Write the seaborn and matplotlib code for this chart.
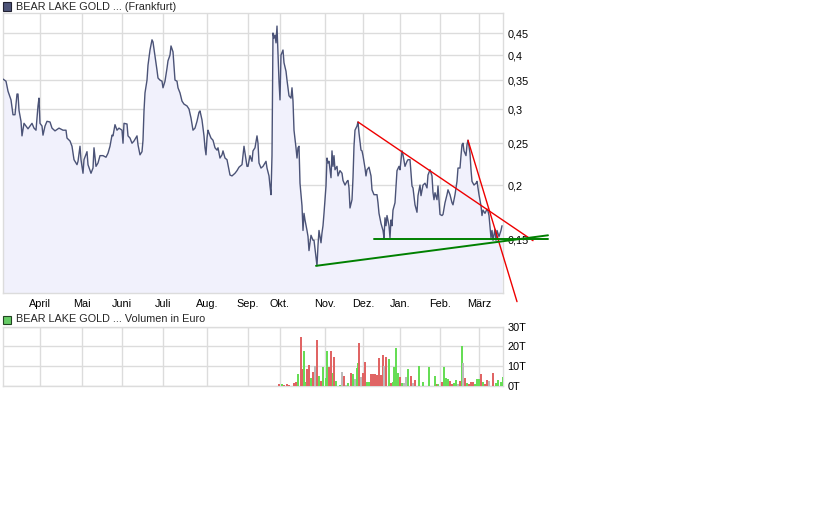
import matplotlib
matplotlib.use("Agg")
import matplotlib.pyplot as plt
from matplotlib.patches import Rectangle
from matplotlib.ticker import FixedLocator, FixedFormatter, NullLocator
import seaborn as sns
import pandas as pd

# Kursdaten (Frankfurt) - t = Handelstag-Index, kurs in EUR
t = [0, 3, 5, 8, 10, 12, 14, 15, 16, 18, 19, 21, 23, 25, 29, 31, 33, 35, 36, 37,
     39, 40, 42, 44, 47, 49, 52, 56, 60, 63, 64, 67, 69, 71, 74, 75, 77, 78, 80, 81,
     84, 85, 88, 90, 91, 93, 95, 97, 100, 103, 105, 107, 109, 110, 112, 114, 116, 119, 120, 121,
     124, 125, 127, 129, 131, 134, 135, 137, 139, 140, 141, 142, 144, 145, 147, 149, 150, 152, 154, 155,
     157, 159, 160, 162, 164, 165, 167, 168, 170, 171, 172, 174, 175, 177, 179, 181, 184, 186, 188, 190,
     192, 194, 196, 197, 199, 200, 201, 202, 203, 204, 205, 206, 208, 210, 212, 214, 215, 217, 219, 220,
     222, 224, 225, 227, 229, 232, 234, 236, 239, 240, 241, 243, 244, 245, 247, 249, 250, 252, 254, 255,
     256, 258, 260, 263, 264, 266, 267, 268, 269, 270, 271, 272, 273, 274, 275, 276, 277, 278, 280, 281,
     283, 284, 286, 288, 289, 290, 291, 293, 294, 295, 296, 297, 299, 300, 301, 302, 304, 305, 306, 308,
     310, 311, 313, 314, 315, 316, 318, 319, 320, 321, 323, 324, 325, 326, 328, 329, 330, 331, 332, 334,
     335, 337, 339, 340, 342, 344, 345, 346, 347, 349, 350, 351, 352, 354, 355, 356, 358, 359, 360, 362,
     363, 364, 366, 368, 369, 371, 374, 375, 376, 378, 380, 381, 382, 383, 384, 386, 387, 388, 389, 390,
     392, 393, 394, 396, 397, 399, 400, 402, 404, 405, 407, 409, 410, 412, 414, 415, 417, 418, 420, 422,
     424, 425, 427, 429, 430, 431, 432, 434, 435, 436, 437, 439, 440, 442, 444, 445, 447, 449, 450, 452,
     454, 455, 457, 458, 459, 460, 461, 463, 464, 465, 466, 467, 468, 469, 471, 473, 474, 476, 478, 479,
     480, 482, 484, 485, 486, 488, 489, 490, 492, 493, 494, 496, 498, 499]
kurs = [.352, .348, .330, .315, .291, .291, .325, .325, .298, .281, .260, .278, .274, .270, .278, .271, .268, .305, .318, .278,
        .274, .261, .274, .281, .280, .271, .267, .271, .268, .268, .257, .253, .246, .229, .223, .227, .246, .229, .213, .229,
        .239, .223, .213, .219, .244, .221, .225, .234, .234, .232, .237, .246, .261, .260, .276, .268, .271, .268, .250, .278,
        .277, .260, .257, .250, .253, .260, .248, .235, .239, .254, .297, .327, .350, .379, .411, .434, .429, .398, .369, .354,
        .350, .348, .336, .348, .373, .388, .400, .420, .407, .377, .350, .348, .336, .327, .313, .308, .305, .300, .286, .268,
        .271, .281, .295, .297, .283, .271, .260, .244, .235, .257, .268, .264, .257, .254, .244, .241, .244, .231, .235, .240,
        .231, .229, .223, .211, .210, .213, .216, .220, .223, .234, .246, .229, .221, .221, .234, .227, .240, .244, .260, .250,
        .225, .219, .221, .227, .219, .210, .199, .190, .234, .450, .438, .445, .427, .467, .405, .348, .315, .400, .411, .384,
        .367, .350, .322, .318, .336, .313, .268, .244, .231, .244, .246, .202, .179, .157, .172, .166, .157, .152, .141, .153,
        .149, .149, .136, .130, .145, .157, .147, .155, .161, .172, .199, .231, .225, .227, .208, .240, .221, .234, .217, .221,
        .210, .216, .213, .205, .200, .204, .205, .197, .177, .185, .208, .246, .268, .274, .280, .264, .241, .240, .234, .219,
        .210, .217, .220, .210, .195, .190, .190, .182, .172, .163, .157, .151, .168, .161, .170, .161, .151, .166, .161, .175,
        .182, .199, .216, .221, .217, .240, .235, .221, .227, .229, .229, .199, .197, .180, .173, .189, .200, .189, .200, .202,
        .197, .211, .217, .210, .192, .185, .192, .185, .199, .185, .171, .170, .171, .182, .190, .195, .190, .182, .180, .190,
        .204, .219, .219, .234, .248, .250, .240, .234, .248, .254, .246, .237, .217, .204, .200, .202, .204, .190, .179, .170,
        .175, .172, .176, .174, .170, .151, .157, .149, .158, .149, .157, .152, .157, .161]

# Umsatz in Tausend Euro, Farbe: r = Minus, g = Plus, n = unveraendert
vol_t = [276, 279, 281, 284, 286, 291, 293, 295, 298, 299, 301, 303, 304, 306, 308, 310, 312, 314, 316, 318,
         320, 323, 324, 326, 328, 330, 331, 333, 337, 339, 341, 343, 345, 348, 350, 352, 354, 355, 356, 358,
         360, 362, 364, 366, 368, 370, 372, 374, 376, 378, 380, 381, 383, 386, 388, 390, 391, 393, 395, 397,
         399, 401, 403, 405, 408, 410, 412, 416, 420, 426, 432, 434, 435, 439, 441, 443, 445, 447, 449, 451,
         453, 455, 457, 459, 460, 462, 464, 466, 468, 470, 472, 474, 476, 478, 480, 482, 484, 486, 490, 493,
         495, 498, 500]
vol = [1.0, 0.8, 0.5, 0.8, 0.3, 1.7, 2.0, 6.1, 25.0, 8.6, 17.7, 2.0, 8.6, 10.6, 4.0, 6.9, 10.1, 23.3, 5.1, 2.5,
       9.6, 4.2, 17.7, 9.8, 17.7, 6.7, 14.7, 2.5, 0.5, 7.1, 5.1, 0.7, 1.5, 6.7, 6.1, 3.4, 8.9, 11.8, 21.8, 4.6,
       6.7, 12.0, 2.2, 2.2, 6.1, 5.9, 6.1, 5.6, 14.2, 5.6, 15.7, 10.1, 14.8, 13.7, 1.3, 2.0, 9.8, 19.2, 6.7, 4.4,
       1.7, 1.3, 4.7, 8.6, 5.1, 1.3, 2.9, 10.1, 2.0, 9.8, 5.1, 1.0, 1.0, 2.0, 9.8, 4.0, 3.4, 2.4, 0.8, 1.5,
       3.0, 0.8, 2.7, 20.2, 11.8, 4.0, 1.7, 0.8, 2.2, 2.2, 1.0, 3.5, 3.5, 5.9, 2.2, 0.8, 3.0, 2.7, 6.4, 1.7,
       3.0, 2.0, 4.4]
vol_dir = ["r", "g", "r", "r", "r", "r", "r", "g", "r", "r", "g", "g", "r", "r", "g", "r", "n", "r", "g", "r",
           "g", "g", "g", "r", "r", "g", "r", "g", "g", "n", "r", "n", "g", "r", "g", "n", "g", "g", "r", "n",
           "r", "r", "g", "g", "r", "r", "r", "r", "r", "r", "r", "n", "r", "g", "r", "g", "g", "g", "g", "r",
           "g", "n", "n", "g", "r", "n", "r", "g", "g", "g", "g", "r", "g", "r", "g", "g", "g", "r", "r", "g",
           "g", "n", "r", "g", "n", "r", "g", "r", "r", "r", "g", "g", "g", "r", "g", "r", "r", "n", "r", "g",
           "g", "g", "g"]

# Trendlinien (Start/Ende)
trend_t = {"rot1": [355, 530], "rot2": [465, 514], "gruen1": [313, 545], "gruen2": [371, 545]}
trend_kurs = {"rot1": [.280, .1487], "rot2": [.254, .1074], "gruen1": [.130, .153], "gruen2": [.150, .150]}

monate = ["April", "Mai", "Juni", "Juli", "Aug.", "Sep.", "Okt.", "Nov.", "Dez.", "Jan.", "Feb.", "März"]
monat_t = [37, 79, 119, 160, 204, 245, 277, 322, 360, 397, 437, 476]
kurs_ticks = [0.15, 0.2, 0.25, 0.3, 0.35, 0.4, 0.45]
kurs_labels = ["0,15", "0,2", "0,25", "0,3", "0,35", "0,4", "0,45"]
vol_ticks = [0, 10, 20, 30]
vol_labels = ["0T", "10T", "20T", "30T"]

sns.set_theme(style="white")
plt.rcParams['font.family'] = ['Liberation Sans', 'DejaVu Sans']
plt.rcParams['font.size'] = 7.8

W, H = 840, 525
grid_col = '#dcdcdc'
df = pd.DataFrame({"t": t, "kurs": kurs})

fig = plt.figure(figsize=(W / 100, H / 100), dpi=100)
ax = fig.add_axes([3 / W, 1 - 293 / H, 500 / W, 280 / H])
axv = fig.add_axes([3 / W, 1 - 386 / H, 500 / W, 59.3 / H])

# --- Kurs ---
ax.set_yscale('log')
ax.set_ylim(0.11247, 0.5007)
ax.set_xlim(0, 500)
ax.fill_between(df["t"], df["kurs"], 0.11247, color='#f1f1fc', lw=0, zorder=1)
sns.lineplot(data=df, x="t", y="kurs", ax=ax, estimator=None, sort=False,
             color='#4b5377', lw=1.0, zorder=3)
for name, xs in trend_t.items():
    farbe = '#ee0000' if name.startswith("rot") else '#008000'
    ax.plot(xs, trend_kurs[name], color=farbe, lw=1.0 if farbe == '#ee0000' else 1.4,
            clip_on=False, zorder=4)

ax.yaxis.set_major_locator(FixedLocator(kurs_ticks))
ax.yaxis.set_major_formatter(FixedFormatter(kurs_labels))
ax.yaxis.set_minor_locator(NullLocator())
ax.yaxis.tick_right()
ax.set_xticks(monat_t)
ax.set_xticklabels(monate)
ax.set_xlabel("")
ax.set_ylabel("")

# --- Volumen ---
farben = {"r": '#e06464', "g": '#66dd55', "n": '#bbbbbb'}
axv.bar(vol_t, vol, width=1.2, color=[farben[c] for c in vol_dir], lw=0, zorder=3)
axv.set_xlim(0, 500)
axv.set_ylim(0, 30)
axv.set_yticks(vol_ticks)
axv.set_yticklabels(vol_labels)
axv.yaxis.tick_right()
axv.set_xticks(monat_t)
axv.set_xticklabels([])

for a in (ax, axv):
    a.grid(True, color=grid_col, lw=1.0, zorder=0)
    a.set_axisbelow(True)
    a.tick_params(length=0, labelsize=7.8, colors='black')
    a.tick_params(axis='y', pad=3)
    a.tick_params(axis='x', pad=4.5)
    for s in a.spines.values():
        s.set_color(grid_col)
        s.set_linewidth(1.0)

# Legenden oben links
fig.add_artist(Rectangle((3 / W, 1 - 10.5 / H), 8 / W, 8 / H, transform=fig.transFigure,
                         fc='#4d5478', ec='#222233', lw=0.8))
fig.text(16 / W, 1 - 6.5 / H, "BEAR LAKE GOLD ... (Frankfurt)", ha='left', va='center', fontsize=7.8)
fig.add_artist(Rectangle((3 / W, 1 - 323.5 / H), 8 / W, 8 / H, transform=fig.transFigure,
                         fc='#66cc66', ec='#224422', lw=0.8))
fig.text(16 / W, 1 - 319.5 / H, "BEAR LAKE GOLD ... Volumen in Euro", ha='left', va='center', fontsize=7.8)

fig.savefig("out.png", dpi=100)
